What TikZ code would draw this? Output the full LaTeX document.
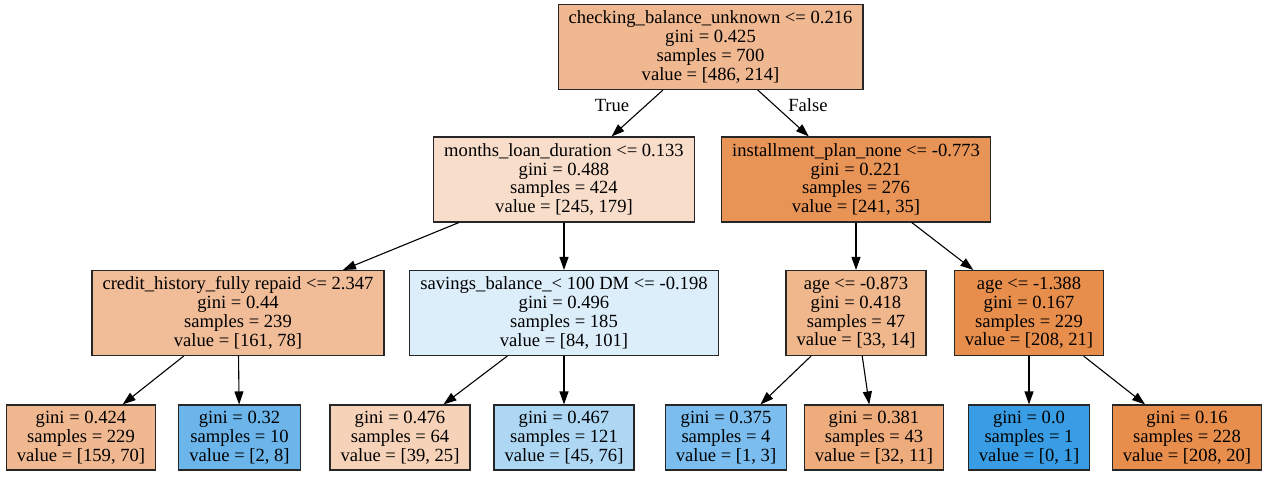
\documentclass[tikz,border=0pt]{standalone}
\usepackage{fontspec}
\setmainfont{Liberation Serif}
\usetikzlibrary{arrows.meta}
\definecolor{clsA}{RGB}{229,129,57}
\definecolor{clsB}{RGB}{57,157,229}
\begin{document}
\begin{tikzpicture}[x=1pt,y=-1pt,
  tnode/.style={draw=black!85, line width=1.1pt, align=center, inner xsep=10.5pt, inner ysep=0pt,
    font=\fontsize{18.6}{18.8}\selectfont},
  splitnode/.style={tnode, minimum height=85pt},
  leafnode/.style={tnode, minimum height=65pt},
  treeedge/.style={line width=1.1pt, -{Triangle[length=13pt,width=9pt]}},
  elabel/.style={font=\fontsize{18.6}{18.8}\selectfont, inner sep=0pt}]
\useasboundingbox (0,0) rectangle (1269,477);

\node[splitnode, fill=clsA!56!white] (root) at (710.5,47) {checking\_balance\_unknown <= 0.216\\gini = 0.425\\samples = 700\\value = [486, 214]};

\node[splitnode, fill=clsA!27!white] (la) at (564,179.5) {months\_loan\_duration <= 0.133\\gini = 0.488\\samples = 424\\value = [245, 179]};
\node[splitnode, fill=clsA!85!white] (lb) at (856,179.5) {installment\_plan\_none <= -0.773\\gini = 0.221\\samples = 276\\value = [241, 35]};

\node[splitnode, fill=clsA!52!white] (credit) at (238,313) {credit\_history\_fully repaid <= 2.347\\gini = 0.44\\samples = 239\\value = [161, 78]};
\node[splitnode, fill=clsB!17!white] (savings) at (564,313) {savings\_balance\_< 100 DM <= -0.198\\gini = 0.496\\samples = 185\\value = [84, 101]};
\node[splitnode, fill=clsA!58!white] (agea) at (856,313) {age <= -0.873\\gini = 0.418\\samples = 47\\value = [33, 14]};
\node[splitnode, fill=clsA!90!white] (ageb) at (1029,313) {age <= -1.388\\gini = 0.167\\samples = 229\\value = [208, 21]};

\node[leafnode, fill=clsA!56!white] (f1) at (81,437.5) {gini = 0.424\\samples = 229\\value = [159, 70]};
\node[leafnode, fill=clsB!75!white] (f2) at (239.5,437.5) {gini = 0.32\\samples = 10\\value = [2, 8]};
\node[leafnode, fill=clsA!36!white] (f3) at (400,437.5) {gini = 0.476\\samples = 64\\value = [39, 25]};
\node[leafnode, fill=clsB!41!white] (f4) at (564,437.5) {gini = 0.467\\samples = 121\\value = [45, 76]};
\node[leafnode, fill=clsB!67!white] (f5) at (726,437.5) {gini = 0.375\\samples = 4\\value = [1, 3]};
\node[leafnode, fill=clsA!66!white] (f6) at (874,437.5) {gini = 0.381\\samples = 43\\value = [32, 11]};
\node[leafnode, fill=clsB!100!white] (f7) at (1029,437.5) {gini = 0.0\\samples = 1\\value = [0, 1]};
\node[leafnode, fill=clsA!90!white] (f8) at (1187,437.5) {gini = 0.16\\samples = 228\\value = [208, 20]};

\draw[treeedge] (root) -- (la);
\draw[treeedge] (root) -- (lb);
\node[elabel] (tlab) at (612,105) {True};
\node[elabel] (flab) at (808,105) {False};

\draw[treeedge] (la) -- (credit);
\draw[treeedge] (la) -- (savings);
\draw[treeedge] (lb) -- (agea);
\draw[treeedge] (lb) -- (ageb);

\draw[treeedge] (credit) -- (f1);
\draw[treeedge] (credit) -- (f2);
\draw[treeedge] (savings) -- (f3);
\draw[treeedge] (savings) -- (f4);
\draw[treeedge] (agea) -- (f5);
\draw[treeedge] (agea) -- (f6);
\draw[treeedge] (ageb) -- (f7);
\draw[treeedge] (ageb) -- (f8);
\end{tikzpicture}
\end{document}
